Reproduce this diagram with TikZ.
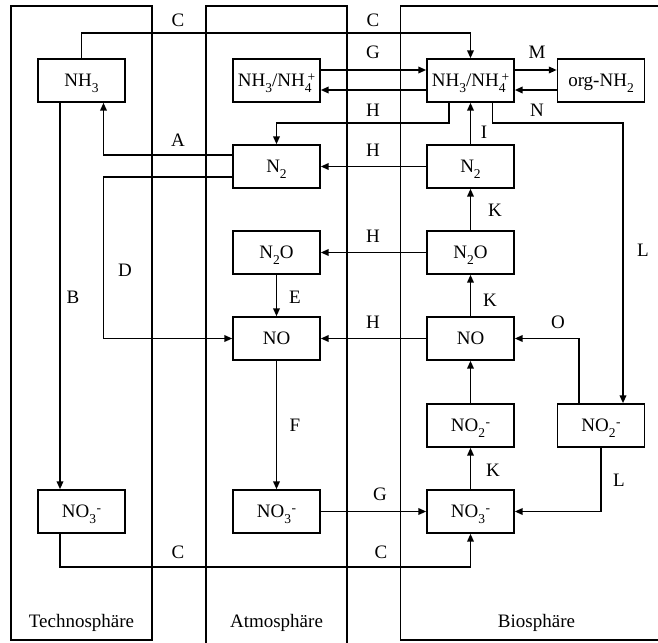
\documentclass[tikz,border=0pt]{standalone}
\usepackage{fontspec}
\setmainfont{Liberation Serif}
\usetikzlibrary{arrows.meta,calc}
\newcommand{\chsub}[1]{\raisebox{-6pt}{\fontsize{13.5}{14}\selectfont #1}}
\newcommand{\chsup}[1]{\raisebox{5.5pt}{\fontsize{13.5}{14}\selectfont #1}}
\begin{document}
\begin{tikzpicture}[x=1pt,y=-1pt,
  box/.style={draw,line width=1.4pt,minimum width=87pt,minimum height=43pt,inner sep=0pt,
    text height=12.6pt,text depth=0pt,font=\fontsize{19}{22}\selectfont},
  conn/.style={line width=1.9pt,-{Triangle[length=8pt,width=6.5pt]}},
  lbl/.style={inner sep=0pt,font=\fontsize{19}{22}\selectfont},
  panel/.style={line width=1.3pt}]
\useasboundingbox (0,0) rectangle (658,642);
% panels
\begin{scope}
\clip (0,0) rectangle (658,642);
\draw[panel] (11,6) rectangle (152,640);
\draw[panel] (206,660) -- (206,6) -- (347,6) -- (347,660);
\draw[panel] (680,6) -- (400.5,6) -- (400.5,640) -- (680,640);
\end{scope}
\node[lbl] (tt) at (81.5,623) {Technosphäre};
\node[lbl] (ta) at (276.5,623) {Atmosphäre};
\node[lbl] (tb) at (536.5,623) {Biosphäre};
% boxes
\node[box] (nh3t) at (81.5,80.5) {NH\chsub{3}};
\node[box] (nh3a) at (276.5,80.5) {NH\chsub{3}/NH\chsub{4}\kern-4pt\chsup{+}};
\node[box] (nh3b) at (470.5,80.5) {NH\chsub{3}/NH\chsub{4}\kern-4pt\chsup{+}};
\node[box] (org) at (601,80.5) {org-NH\chsub{2}};
\node[box] (n2a) at (276.5,166.5) {N\chsub{2}};
\node[box] (n2b) at (470.5,166.5) {N\chsub{2}};
\node[box] (n2oa) at (276.5,252.5) {N\chsub{2}O};
\node[box] (n2ob) at (470.5,252.5) {N\chsub{2}O};
\node[box] (noa) at (276.5,338.5) {NO};
\node[box] (nob) at (470.5,338.5) {NO};
\node[box] (no2l) at (470.5,425.5) {NO\chsub{2}\kern0.5pt\chsup{-}};
\node[box] (no2r) at (601,425.5) {NO\chsub{2}\kern0.5pt\chsup{-}};
\node[box] (no3t) at (81.5,511.5) {NO\chsub{3}\kern0.5pt\chsup{-}};
\node[box] (no3a) at (276.5,511.5) {NO\chsub{3}\kern0.5pt\chsup{-}};
\node[box] (no3b) at (470.5,511.5) {NO\chsub{3}\kern0.5pt\chsup{-}};
% levels
\coordinate (yC) at (0,33);
\coordinate (yG) at (0,70);
\coordinate (yHa) at (0,90);
\coordinate (yH) at (0,123);
\coordinate (yA) at (0,155);
\coordinate (yD) at (0,177);
\coordinate (yCb) at (0,567);
\coordinate (xA) at ([xshift=22pt]nh3t.south);
\coordinate (xB) at ([xshift=-21.5pt]nh3t.south);
\coordinate (xH) at ([xshift=-21.5pt]nh3b.south);
\coordinate (xN) at ([xshift=22pt]nh3b.south);
\coordinate (xL) at ([xshift=22pt]no2r.north);
\coordinate (xO) at ([xshift=-22pt]no2r.north);
% connectors
\draw[conn] (nh3t.north) |- (nh3b.north |- yC) -- (nh3b.north);
\draw[conn] (nh3a.east |- yG) -- (nh3b.west |- yG);
\draw[conn] (nh3b.west |- yHa) -- (nh3a.east |- yHa);
\draw[conn] (nh3b.east |- yG) -- (org.west |- yG);
\draw[conn] (org.west |- yHa) -- (nh3b.east |- yHa);
\draw[conn] (xH) |- (n2a.north |- yH) -- (n2a.north);
\draw[conn] (xN) |- (xL |- yH) -- (xL);
\draw[conn] (n2b.north) -- (nh3b.south);
\draw[conn] (n2b.west) -- (n2a.east);
\draw[conn] (n2a.west |- yA) -| (xA);
\draw[conn] (n2a.west |- yD) -| (xA |- noa.west) -- (noa.west);
\draw[conn] (xB) -- (xB |- no3t.north);
\draw[conn] (n2oa.south) -- (noa.north);
\draw[conn] (n2ob.north) -- (n2b.south);
\draw[conn] (n2ob.west) -- (n2oa.east);
\draw[conn] (nob.north) -- (n2ob.south);
\draw[conn] (nob.west) -- (noa.east);
\draw[conn] (xO) |- (nob.east);
\draw[conn] (no2l.north) -- (nob.south);
\draw[conn] (noa.south) -- (no3a.north);
\draw[conn] (no3b.north) -- (no2l.south);
\draw[conn] (no2r.south) |- (no3b.east);
\draw[conn] (no3a.east) -- (no3b.west);
\draw[conn] ([xshift=-21.5pt]no3t.south) |- (no3b.south |- yCb) -- (no3b.south);
% labels
\node[lbl] (lc1) at (178,20) {C};
\node[lbl] (lc2) at (373,20) {C};
\node[lbl] (lg1) at (373,52) {G};
\node[lbl] (lm) at (537,52) {M};
\node[lbl] (lh1) at (373,110) {H};
\node[lbl] (ln) at (537,110) {N};
\node[lbl] (li) at (484,132) {I};
\node[lbl] (la) at (178,140) {A};
\node[lbl] (lh2) at (373,150) {H};
\node[lbl] (lk1) at (495,210) {K};
\node[lbl] (lh3) at (373,236) {H};
\node[lbl] (ll1) at (643,250) {L};
\node[lbl] (ld) at (125,270) {D};
\node[lbl] (lb) at (73,297) {B};
\node[lbl] (le) at (295,297) {E};
\node[lbl] (lk2) at (490,300) {K};
\node[lbl] (lh4) at (373,322) {H};
\node[lbl] (lo) at (558,322) {O};
\node[lbl] (lf) at (295,425) {F};
\node[lbl] (lk3) at (493,470) {K};
\node[lbl] (ll2) at (619,480) {L};
\node[lbl] (lg2) at (380,494) {G};
\node[lbl] (lc3) at (178,552) {C};
\node[lbl] (lc4) at (381,552) {C};
\end{tikzpicture}
\end{document}
